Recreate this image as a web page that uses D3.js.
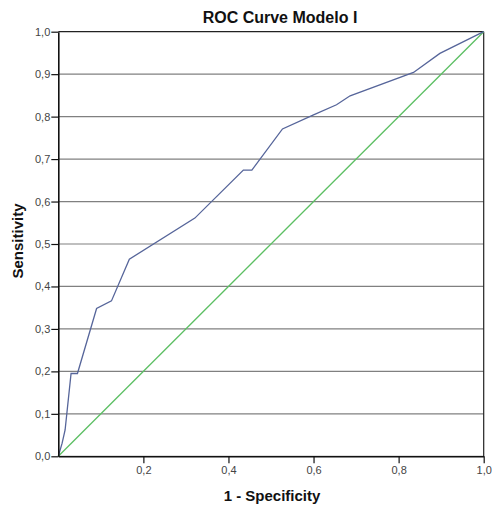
<!DOCTYPE html>
<html>
<head>
<meta charset="utf-8">
<script src="https://cdn.jsdelivr.net/npm/d3@7"></script>
<style>
  body { margin: 0; background: #fff; }
  text { font-family: "Liberation Sans", Arial, sans-serif; }
</style>
</head>
<body>
<div class="chart"></div>
<script>
// ROC curve points (1 - specificity, sensitivity)
var fpr = [0, 0.009, 0.016, 0.030, 0.045, 0.090, 0.125, 0.167, 0.321, 0.435, 0.455, 0.527, 0.600, 0.654, 0.686, 0.835, 0.897, 1];
var tpr = [0, 0.031, 0.062, 0.195, 0.195, 0.348, 0.366, 0.464, 0.561, 0.674, 0.674, 0.771, 0.804, 0.828, 0.849, 0.904, 0.949, 1];
var refLine = [0, 1];
var yTicks = [0, 0.1, 0.2, 0.3, 0.4, 0.5, 0.6, 0.7, 0.8, 0.9, 1];
var xTicks = [0.2, 0.4, 0.6, 0.8, 1];

var fmt = function(d){ return d3.format('.1f')(d).replace('.', ','); };

var svg = d3.select('.chart').append('svg')
            .attr('width', 492)
            .attr('height', 507);

var pLeft = 58.3, pRight = 483.7, pTop = 31.7, pBottom = 456.3;

var x = d3.scaleLinear().domain([0, 1]).range([pLeft, pRight]);
var y = d3.scaleLinear().domain([0, 1]).range([pBottom, pTop]);

// grid lines
svg.selectAll('.grid')
    .data(yTicks)
    .enter().append('line')
      .attr('class', 'grid')
      .attr('x1', pLeft).attr('x2', pRight)
      .attr('y1', function(d){ return y(d); })
      .attr('y2', function(d){ return y(d); })
      .attr('stroke', function(d){ return d === 1 ? '#222' : '#808080'; })
      .attr('stroke-width', 1.2);

// right frame
svg.append('line')
    .attr('x1', pRight).attr('x2', pRight)
    .attr('y1', pTop).attr('y2', pBottom)
    .attr('stroke', '#222').attr('stroke-width', 1.2);

// reference diagonal
svg.append('path')
    .datum(refLine)
    .attr('d', d3.line().x(function(d){ return x(d); }).y(function(d){ return y(d); }))
    .attr('fill', 'none')
    .attr('stroke', '#5cbf63')
    .attr('stroke-width', 1.3);

// roc curve
svg.append('path')
    .datum(fpr)
    .attr('d', d3.line().x(function(d){ return x(d); }).y(function(d, i){ return y(tpr[i]); }))
    .attr('fill', 'none')
    .attr('stroke', '#56659a')
    .attr('stroke-width', 1.3);

// axes
var yAxis = d3.axisLeft(y).tickValues(yTicks).tickFormat(fmt).tickSize(7).tickSizeOuter(0).tickPadding(1);
var xAxis = d3.axisBottom(x).tickValues(xTicks).tickFormat(fmt).tickSize(7).tickSizeOuter(0).tickPadding(3);

var gy = svg.append('g').attr('transform', 'translate(' + pLeft + ',0)').call(yAxis);
var gx = svg.append('g').attr('transform', 'translate(0,' + pBottom + ')').call(xAxis);

[gy, gx].forEach(function(g){
  g.select('.domain').attr('stroke', '#111').attr('stroke-width', 1.6);
  g.selectAll('.tick line').attr('stroke', '#111').attr('stroke-width', 1.2);
  g.selectAll('.tick text')
    .attr('fill', '#444')
    .style('font-size', '11px')
    .style('font-family', '"Liberation Sans", Arial, sans-serif');
});

// titles
svg.append('text')
    .attr('x', 280).attr('y', 23)
    .attr('text-anchor', 'middle')
    .style('font-size', '16px').style('font-weight', 'bold')
    .attr('fill', '#111')
    .text('ROC Curve Modelo I');

svg.append('text')
    .attr('x', 272).attr('y', 501)
    .attr('text-anchor', 'middle')
    .style('font-size', '15px').style('font-weight', 'bold')
    .attr('fill', '#111')
    .text('1 - Specificity');

svg.append('text')
    .attr('transform', 'translate(23,241) rotate(-90)')
    .attr('text-anchor', 'middle')
    .style('font-size', '15px').style('font-weight', 'bold')
    .attr('fill', '#111')
    .text('Sensitivity');
</script>
</body>
</html>
